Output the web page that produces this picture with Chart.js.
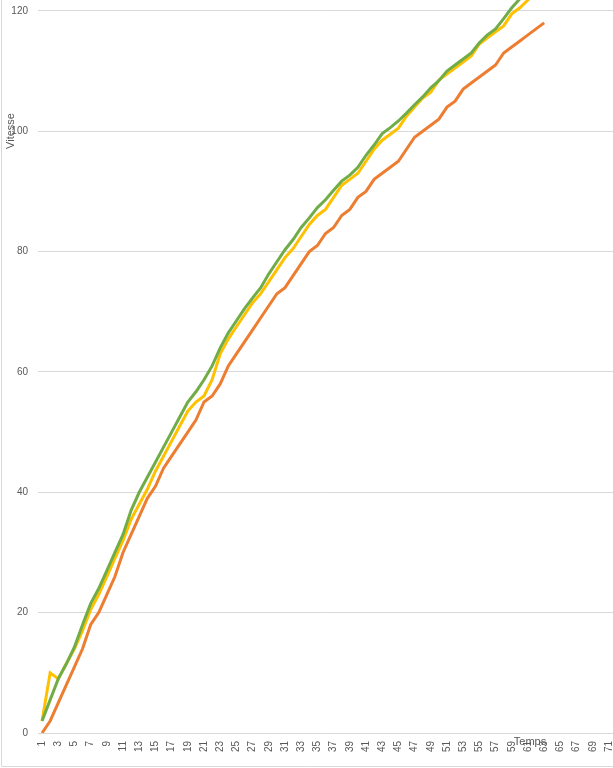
<!DOCTYPE html>
<html>
<head>
<meta charset="utf-8">
<script src="https://cdn.jsdelivr.net/npm/chart.js@4.4.1/dist/chart.umd.min.js"></script>
<style>
  html, body { margin: 0; padding: 0; background: #fff; }
  #wrap { width: 613px; height: 768px; }
</style>
</head>
<body>
<div id="wrap"><canvas id="Chart" width="613" height="768"></canvas></div>
<script>
// categories on the Temps axis
const temps = [1, 2, 3, 4, 5, 6, 7, 8, 9, 10, 11, 12, 13, 14, 15, 16, 17, 18, 19, 20,
    21, 22, 23, 24, 25, 26, 27, 28, 29, 30, 31, 32, 33, 34, 35, 36, 37, 38, 39, 40,
    41, 42, 43, 44, 45, 46, 47, 48, 49, 50, 51, 52, 53, 54, 55, 56, 57, 58, 59, 60,
    61, 62, 63, 64, 65, 66, 67, 68, 69, 70, 71];

// Vitesse
const vertes = [2, 5.5, 9, 11.5, 14.3, 18, 21.5, 24, 27, 30, 33, 37, 40, 42.5, 45, 47.5, 50, 52.5, 55, 56.7,
    58.7, 61, 64, 66.5, 68.5, 70.5, 72.3, 74, 76.3, 78.3, 80.3, 82, 84, 85.6, 87.3, 88.6, 90.2, 91.7, 92.7, 94,
    96, 97.7, 99.6, 100.6, 101.7, 103, 104.4, 105.7, 107.2, 108.4, 110, 111, 112, 113, 114.7, 116, 117, 118.7, 120.5, 122,
    123.5];
const jaunes = [2, 10, 9, 11.5, 14, 17, 20.5, 23, 26, 29, 32, 35.5, 38, 40.5, 43.5, 46, 48.5, 51, 53.5, 55,
    56, 58.7, 63, 65.5, 67.5, 69.5, 71.5, 73, 75, 77, 79, 80.5, 82.5, 84.5, 86, 87, 89, 91, 92, 93,
    95, 97, 98.5, 99.5, 100.5, 102.5, 104, 105.5, 106.5, 108.5, 109.5, 110.5, 111.5, 112.5, 114.5, 115.5, 116.5, 117.5, 119.5, 120.5,
    121.8, 123];
const oranges = [0, 2, 5, 8, 11, 14, 18, 20, 23, 26, 30, 33, 36, 39, 41, 44, 46, 48, 50, 52,
    55, 56, 58, 61, 63, 65, 67, 69, 71, 73, 74, 76, 78, 80, 81, 83, 84, 86, 87, 89,
    90, 92, 93, 94, 95, 97, 99, 100, 101, 102, 104, 105, 107, 108, 109, 110, 111, 113, 114, 115,
    116, 117, 118];

const grey = '#595959';

// axis titles sit where the original chart left them, plus the chart frame
const extras = {
    id: 'extras',
    afterDraw(chart) {
        const c = chart.ctx;
        const area = chart.chartArea;
        c.save();
        c.strokeStyle = '#d9d9d9';
        c.lineWidth = 1;
        c.beginPath();
        c.moveTo(1.5, 0);
        c.lineTo(1.5, 766.5);
        c.lineTo(613, 766.5);
        c.stroke();

        c.fillStyle = grey;
        c.font = '11px "Liberation Sans", Arial, sans-serif';
        c.textAlign = 'center';
        c.textBaseline = 'middle';
        c.fillText('Temps', 530, area.bottom + 9);

        c.translate(11, 131);
        c.rotate(-Math.PI / 2);
        c.fillText('Vitesse', 0, 0);
        c.restore();
    }
};

const ctx = document.getElementById('Chart').getContext('2d');
const myChart = new Chart(ctx, {
    type: 'line',
    data: {
        labels: temps,
        datasets: [{
            label: 'vert',
            data: vertes,
            borderColor: '#70AD47',
            borderWidth: 3,
            pointRadius: 0,
            tension: 0
        }, {
            label: 'jaune',
            data: jaunes,
            borderColor: '#FFC000',
            borderWidth: 3,
            pointRadius: 0,
            tension: 0
        }, {
            label: 'orange',
            data: oranges,
            borderColor: '#ED7D31',
            borderWidth: 3,
            pointRadius: 0,
            tension: 0
        }]
    },
    options: {
        responsive: false,
        animation: false,
        layout: { padding: 0 },
        plugins: {
            legend: { display: false },
            tooltip: { enabled: false }
        },
        scales: {
            x: {
                type: 'category',
                offset: true,
                grid: { display: false, drawTicks: false },
                border: { display: false },
                ticks: {
                    autoSkip: false,
                    maxRotation: 90,
                    minRotation: 90,
                    padding: 8,
                    color: grey,
                    font: { family: '"Liberation Sans", Arial, sans-serif', size: 10 },
                    callback: function (value, index) {
                        return index % 2 === 0 ? this.getLabelForValue(value) : '';
                    }
                },
                afterFit: (scale) => {
                    scale.height = 35;
                    scale.paddingLeft = 0;
                    scale.paddingRight = 0;
                }
            },
            y: {
                min: 0,
                max: 121.8,
                grid: { color: '#d9d9d9', drawTicks: false },
                border: { display: false },
                ticks: {
                    stepSize: 20,
                    includeBounds: false,
                    padding: 10,
                    color: grey,
                    font: { family: '"Liberation Sans", Arial, sans-serif', size: 10 }
                },
                afterFit: (scale) => {
                    scale.width = 38;
                    scale.paddingTop = 0;
                    scale.paddingBottom = 0;
                }
            }
        }
    },
    plugins: [extras]
});
</script>
</body>
</html>
